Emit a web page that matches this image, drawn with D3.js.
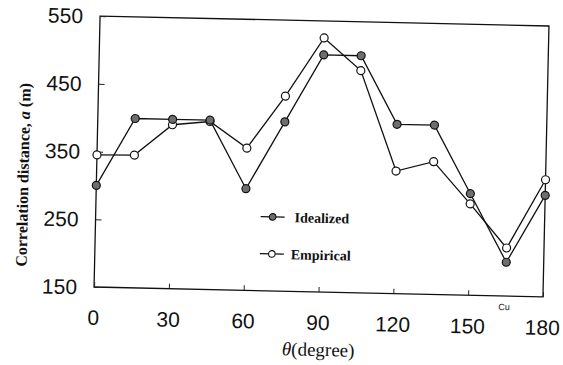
<!DOCTYPE html>
<html>
<head>
<meta charset="utf-8">
<script src="https://cdn.jsdelivr.net/npm/d3@7"></script>
<style>
  body { margin: 0; background: #fff; }
</style>
</head>
<body>
<div id="chart"></div>
<script>
const width = 563
const height = 365

// data
const angles = [0, 15, 30, 45, 60, 75, 90, 105, 120, 135, 150, 165, 180]
const idealized = [300, 400, 400, 400, 300, 400, 500, 500, 400, 400, 300, 200, 300]
const empirical = [345, 346, 392, 398, 360, 438, 525, 478, 331, 346, 285, 221, 323]
const xTicks = [0, 30, 60, 90, 120, 150, 180]
const yTicks = [150, 250, 350, 450, 550]
const seriesNames = ["Idealized", "Empirical"]

const margin = { left: 97, right: 17, top: 21, bottom: 73 }
const x0 = margin.left, x1 = width - margin.right
const y0 = margin.top, y1 = height - margin.bottom

const svg = d3.select("#chart")
    .append("svg")
    .attr("width", width)
    .attr("height", height)
    .style("background-color", "#fff");

// the scanned figure is tilted a little
const g = svg.append("g")
    .attr("transform", `rotate(1.27, ${(x0 + x1) / 2}, ${(y0 + y1) / 2})`);

const x = d3.scaleLinear().domain([0, 180]).range([x0, x1]);
const y = d3.scaleLinear().domain([150, 550]).range([y1, y0]);

// frame
g.append("rect")
    .attr("x", x0).attr("y", y0)
    .attr("width", x1 - x0).attr("height", y1 - y0)
    .attr("fill", "none")
    .attr("stroke", "#111")
    .attr("stroke-width", 1.3);

// inward ticks
const xAxis = d3.axisBottom(x).tickValues(xTicks).tickSize(-5).tickFormat("");
g.append("g").attr("transform", `translate(0,${y1})`).call(xAxis)
    .call(s => s.select(".domain").remove())
    .selectAll("line").attr("stroke", "#222");
const yAxis = d3.axisLeft(y).tickValues(yTicks).tickSize(-6).tickFormat("");
g.append("g").attr("transform", `translate(${x0},0)`).call(yAxis)
    .call(s => s.select(".domain").remove())
    .selectAll("line").attr("stroke", "#222");

// tick labels
g.append("g").selectAll("text")
    .data(xTicks)
    .enter().append("text")
    .attr("x", d => x(d))
    .attr("y", y1 + 38)
    .attr("text-anchor", "middle")
    .attr("font-family", "Liberation Sans, Arial, sans-serif")
    .attr("font-size", 21)
    .attr("fill", "#111")
    .text(d => d);

g.append("g").selectAll("text")
    .data(yTicks)
    .enter().append("text")
    .attr("x", x0 - 17)
    .attr("y", d => y(d))
    .attr("dy", "0.36em")
    .attr("text-anchor", "end")
    .attr("font-family", "Liberation Sans, Arial, sans-serif")
    .attr("font-size", 21)
    .attr("fill", "#111")
    .text(d => d);

// axis titles
const yTitle = g.append("text")
    .attr("transform", `translate(29,${(y0 + y1) / 2 + 25}) rotate(-90)`)
    .attr("text-anchor", "middle")
    .attr("font-family", "Liberation Serif, Times New Roman, serif")
    .attr("font-weight", "bold")
    .attr("font-size", 16)
    .attr("fill", "#111");
yTitle.append("tspan").text("Correlation distance, ");
yTitle.append("tspan").attr("font-style", "italic").text("a");
yTitle.append("tspan").text(" (m)");

const xTitle = g.append("text")
    .attr("x", (x0 + x1) / 2 + 1)
    .attr("y", y1 + 64)
    .attr("text-anchor", "middle")
    .attr("font-family", "Liberation Serif, Times New Roman, serif")
    .attr("font-size", 19)
    .attr("fill", "#111");
xTitle.append("tspan").attr("font-style", "italic").text("θ");
xTitle.append("tspan").text("(degree)");

g.append("text")
    .attr("x", x(165) - 7)
    .attr("y", y1 + 14)
    .attr("font-family", "Liberation Sans, Arial, sans-serif")
    .attr("font-size", 9)
    .attr("fill", "#111")
    .text("Cu");

// series
const line = d3.line().x((d, i) => x(angles[i])).y(d => y(d));
const series = [
    { name: seriesNames[0], values: idealized, fill: "#6e6e6e" },
    { name: seriesNames[1], values: empirical, fill: "#fff" }
];

series.slice().reverse().forEach(s => {
    g.append("path")
        .datum(s.values)
        .attr("d", line)
        .attr("fill", "none")
        .attr("stroke", "#111")
        .attr("stroke-width", 1.3);
});
series.slice().reverse().forEach(s => {
    g.append("g").selectAll("circle")
        .data(s.values)
        .enter().append("circle")
        .attr("cx", (d, i) => x(angles[i]))
        .attr("cy", d => y(d))
        .attr("r", 4)
        .attr("fill", s.fill)
        .attr("stroke", "#111")
        .attr("stroke-width", 1.2);
});

// legend
const legend = g.append("g").attr("transform", "translate(262,218)");
series.forEach((s, i) => {
    const row = legend.append("g").attr("transform", `translate(0,${i * 37})`);
    row.append("line")
        .attr("x1", 0).attr("x2", 24)
        .attr("stroke", "#111").attr("stroke-width", 1.3);
    row.append("circle")
        .attr("cx", 12).attr("r", 3.3)
        .attr("fill", s.fill)
        .attr("stroke", "#111").attr("stroke-width", 1.1);
    row.append("text")
        .attr("x", i === 0 ? 34 : 31)
        .attr("dy", "0.35em")
        .attr("font-family", "Liberation Serif, Times New Roman, serif")
        .attr("font-weight", "bold")
        .attr("font-size", 14)
        .attr("fill", "#111")
        .text(s.name);
});
</script>
</body>
</html>
